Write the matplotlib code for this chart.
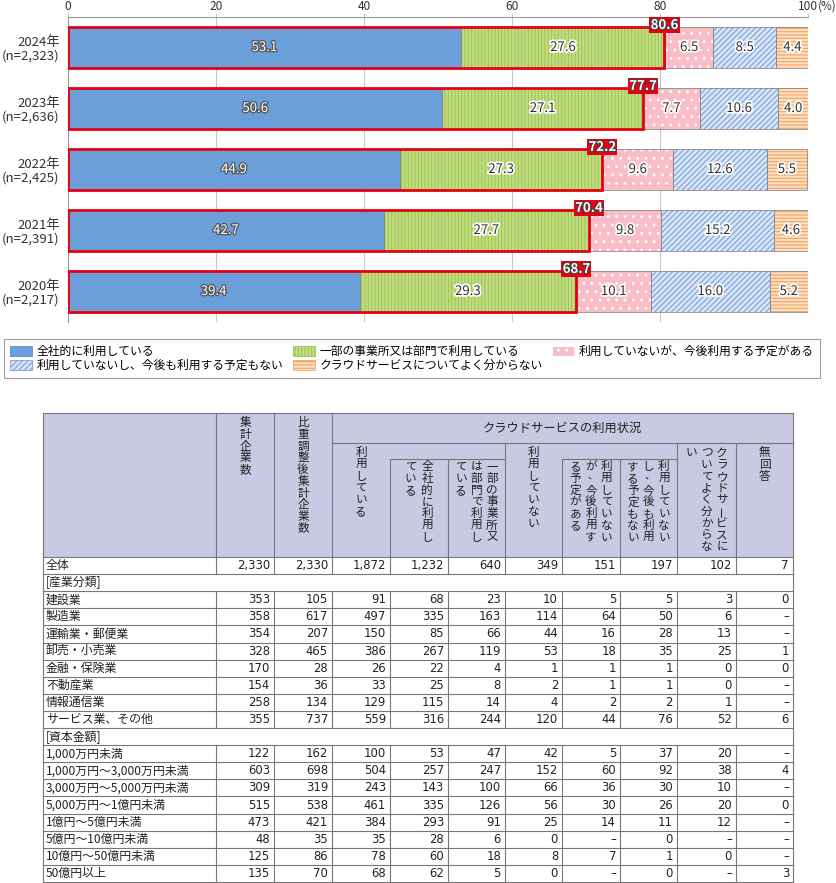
import matplotlib.pyplot as plt
import matplotlib.patheffects as pe
from matplotlib.patches import Rectangle, Patch
import numpy as np

plt.rcParams['font.family'] = ['Noto Sans CJK JP', 'DejaVu Sans']
plt.rcParams['hatch.linewidth'] = 0.8

# ---- bar chart data ----
years = ['2024年\n(n=2,323)', '2023年\n(n=2,636)', '2022年\n(n=2,425)',
         '2021年\n(n=2,391)', '2020年\n(n=2,217)']
all_company = [53.1, 50.6, 44.9, 42.7, 39.4]
some_dept = [27.6, 27.1, 27.3, 27.7, 29.3]
plan_to_use = [6.5, 7.7, 9.6, 9.8, 10.1]
no_plan = [8.5, 10.6, 12.6, 15.2, 16.0]
unknown = [4.4, 4.0, 5.5, 4.6, 5.2]
using_total = [80.6, 77.7, 72.2, 70.4, 68.7]

series_names = ['全社的に利用している', '一部の事業所又は部門で利用している',
                '利用していないが、今後利用する予定がある',
                '利用していないし、今後も利用する予定もない',
                'クラウドサービスについてよく分からない']

# ---- table data ----
total_row = ['2,330', '2,330', '1,872', '1,232', '640', '349', '151', '197', '102', '7']
industry_labels = ['建設業', '製造業', '運輸業・郵便業', '卸売・小売業', '金融・保険業',
                   '不動産業', '情報通信業', 'サービス業、その他']
industry_values = [
    ['353', '105', '91', '68', '23', '10', '5', '5', '3', '0'],
    ['358', '617', '497', '335', '163', '114', '64', '50', '6', '–'],
    ['354', '207', '150', '85', '66', '44', '16', '28', '13', '–'],
    ['328', '465', '386', '267', '119', '53', '18', '35', '25', '1'],
    ['170', '28', '26', '22', '4', '1', '1', '1', '0', '0'],
    ['154', '36', '33', '25', '8', '2', '1', '1', '0', '–'],
    ['258', '134', '129', '115', '14', '4', '2', '2', '1', '–'],
    ['355', '737', '559', '316', '244', '120', '44', '76', '52', '6'],
]
capital_labels = ['1,000万円未満', '1,000万円～3,000万円未満', '3,000万円～5,000万円未満',
                  '5,000万円～1億円未満', '1億円～5億円未満', '5億円～10億円未満',
                  '10億円～50億円未満', '50億円以上']
capital_values = [
    ['122', '162', '100', '53', '47', '42', '5', '37', '20', '–'],
    ['603', '698', '504', '257', '247', '152', '60', '92', '38', '4'],
    ['309', '319', '243', '143', '100', '66', '36', '30', '10', '–'],
    ['515', '538', '461', '335', '126', '56', '30', '26', '20', '0'],
    ['473', '421', '384', '293', '91', '25', '14', '11', '12', '–'],
    ['48', '35', '35', '28', '6', '0', '–', '0', '–', '–'],
    ['125', '86', '78', '60', '18', '8', '7', '1', '0', '–'],
    ['135', '70', '68', '62', '5', '0', '–', '0', '–', '3'],
]

header_main = 'クラウドサービスの利用状況'
header_cols = [
    (1, 2, 417, ['集計企業数']),
    (2, 3, 417, ['比重調整後集計企業数']),
    (3, 4, 447, ['利用している']),
    (4, 5, 461, ['全社的に利用し', 'ている']),
    (5, 6, 461, ['一部の事業所又', 'は部門で利用し', 'ている']),
    (6, 7, 447, ['利用していない']),
    (7, 8, 461, ['利用していない', 'が、今後利用す', 'る予定がある']),
    (8, 9, 461, ['利用していない', 'し、今後も利用', 'する予定もない']),
    (9, 10, 447, ['クラウドサービスに', 'ついてよく分からな', 'い']),
    (10, 11, 447, ['無回答']),
]

# (face, hatch colour, hatch)
styles = [('#6A9FD9', '#5A8BC9', None),
          ('#C3DD86', '#9CC44E', '|||||'),
          ('#F9BDC8', 'white', '..'),
          ('#D8E5F7', '#7BA2DC', '//////'),
          ('#FDDFC2', '#F4A362', '-----')]

fig = plt.figure(figsize=(8.36, 8.83), dpi=100)
W, H = 836, 883

# ---------------- bar chart ----------------
ax = fig.add_axes([68 / W, 1 - 322 / H, 740 / W, 305 / H])
y = np.arange(len(years))
series = [all_company, some_dept, plan_to_use, no_plan, unknown]
left = np.zeros(len(years))
bh = 0.66
for k, (vals, (face, hc, hatch)) in enumerate(zip(series, styles)):
    vals = np.array(vals)
    ax.barh(y, vals, left=left, height=bh, color=face, edgecolor=hc, hatch=hatch,
            linewidth=0, zorder=2)
    ax.barh(y, vals, left=left, height=bh, fill=False, edgecolor='#8a8a8a',
            linewidth=0.6, zorder=3)
    for yi, v, l in zip(y, vals, left):
        if k == 0:
            ax.text(l + v / 2, yi, f'{v:.1f}', ha='center', va='center', fontsize=9.5,
                    color='white', zorder=7,
                    path_effects=[pe.withStroke(linewidth=1.8, foreground='#555555')])
        else:
            ax.text(l + v / 2, yi, f'{v:.1f}', ha='center', va='center', fontsize=9.5,
                    color='#333333', zorder=7,
                    path_effects=[pe.withStroke(linewidth=2.5, foreground='white')])
    left += vals

ax.barh(y, using_total, height=bh, fill=False, edgecolor='#E60012', linewidth=2.0, zorder=5)
for yi, t in zip(y, using_total):
    ax.text(t, yi - 0.37, f'{t:.1f}', ha='center', va='center', fontsize=9.5,
            fontweight='bold', color='white', zorder=8,
            bbox=dict(boxstyle='square,pad=0.1', fc='#E60012', ec='none'),
            path_effects=[pe.withStroke(linewidth=1.5, foreground='#444444')])

ax.set_xlim(0, 100)
ax.set_ylim(4.5, -0.5)
ax.xaxis.tick_top()
ax.set_xticks([0, 20, 40, 60, 80, 100])
ax.set_xticklabels(['0', '20', '40', '60', '80', '100'], fontsize=8.6, color='#333333')
ax.annotate('(%)', xy=(100, 1.0), xycoords=('data', 'axes fraction'),
            xytext=(6.8, 3), textcoords='offset points', ha='left', va='bottom',
            fontsize=8.4, color='#333333')
ax.tick_params(axis='x', length=3, color='#c8c8c8', pad=0)
ax.set_yticks(y)
ax.set_yticklabels(years, fontsize=9.5, color='#333333', linespacing=1.05)
ax.tick_params(axis='y', length=0, pad=6)
ax.grid(axis='x', color='#c8c8c8', linewidth=0.8, zorder=0)
ax.set_axisbelow(True)
for s in ['right', 'bottom']:
    ax.spines[s].set_visible(False)
for s in ['top', 'left']:
    ax.spines[s].set_color('#999999')
    ax.spines[s].set_linewidth(0.8)

# legend
handles = [Patch(facecolor=f, edgecolor=hc, hatch=h, linewidth=0.6) for f, hc, h in styles]
order = [0, 3, 1, 4, 2]
leg = fig.legend([handles[i] for i in order], [series_names[i] for i in order], ncol=3,
                 loc='upper left', bbox_to_anchor=(4 / W, 1 - 339 / H), frameon=True,
                 fancybox=False, edgecolor='#888888', fontsize=8.5, handlelength=1.85,
                 handleheight=0.85, columnspacing=0.75, handletextpad=0.45, borderpad=0.5,
                 labelspacing=0.1, borderaxespad=0)
leg.get_frame().set_linewidth(0.8)

# ---------------- table ----------------
tax = fig.add_axes([0, 0, 1, 471 / H])
tax.set_xlim(0, W)
tax.set_ylim(H, 412)
tax.axis('off')

edges = [43, 216, 274, 332, 390, 448, 505, 562, 620, 677, 736, 793]
head_top, head_bot, tab_bot = 413, 557, 882
lc = '#777777'
lw = 0.8

tax.add_patch(Rectangle((edges[0], head_top), edges[-1] - edges[0], head_bot - head_top,
                        fc='#C9C9E3', ec='none', zorder=0))
# header lines
tax.plot([edges[0], edges[-1]], [head_top, head_top], color=lc, lw=lw)
for e in edges[1:4]:
    tax.plot([e, e], [head_top, head_bot], color=lc, lw=lw)
tax.plot([edges[3], edges[-1]], [443, 443], color=lc, lw=lw)
tax.plot([edges[4], edges[6]], [459, 459], color=lc, lw=lw)
tax.plot([edges[7], edges[9]], [459, 459], color=lc, lw=lw)
for i in [4, 5, 7, 8]:
    tax.plot([edges[i], edges[i]], [459, head_bot], color=lc, lw=lw)
for i in [6, 9, 10]:
    tax.plot([edges[i], edges[i]], [443, head_bot], color=lc, lw=lw)
tax.plot([edges[0], edges[0]], [head_top, tab_bot], color=lc, lw=lw)
tax.plot([edges[-1], edges[-1]], [head_top, tab_bot], color=lc, lw=lw)

tax.text((edges[3] + edges[-1]) / 2, 428, header_main, ha='center', va='center',
         fontsize=8.8, color='#222222')


def vtext(xc, top, cols, step=11.7, gap=15.5, size=8.4):
    n = len(cols)
    if n == 2:
        gap = 16.5
    for k, col in enumerate(cols):
        x = xc + ((n - 1) / 2 - k) * gap
        for j, ch in enumerate(col):
            yy = top + (j + 0.5) * step
            if ch == '、':
                tax.text(x + 1.5, yy - 3, ch, ha='center', va='center', fontsize=size - 1,
                         color='#222222')
            elif ch == 'ー':
                tax.text(x, yy, ch, ha='center', va='center', fontsize=size,
                         rotation=90, color='#222222')
            else:
                tax.text(x, yy, ch, ha='center', va='center', fontsize=size,
                         color='#222222')


for a, b, top, cols in header_cols:
    vtext((edges[a] + edges[b]) / 2, top, cols)

rows = [('全体', total_row), ('[産業分類]', None)]
rows += list(zip(industry_labels, industry_values))
rows += [('[資本金額]', None)]
rows += list(zip(capital_labels, capital_values))

rh = (tab_bot - head_bot) / len(rows)
for i, (label, vals) in enumerate(rows):
    y0 = head_bot + i * rh
    tax.plot([edges[0], edges[-1]], [y0, y0], color=lc, lw=lw)
    tax.text(edges[0] + 3, y0 + rh / 2, label, ha='left', va='center', fontsize=8.6,
             color='#222222')
    if vals is None:
        continue
    for e in edges[1:-1]:
        tax.plot([e, e], [y0, y0 + rh], color=lc, lw=lw)
    for j, v in enumerate(vals):
        tax.text(edges[j + 2] - 4, y0 + rh / 2, v, ha='right', va='center', fontsize=8.4,
                 family='DejaVu Sans', color='#222222')
tax.plot([edges[0], edges[-1]], [tab_bot, tab_bot], color=lc, lw=lw)

fig.savefig('out.png', dpi=100)
